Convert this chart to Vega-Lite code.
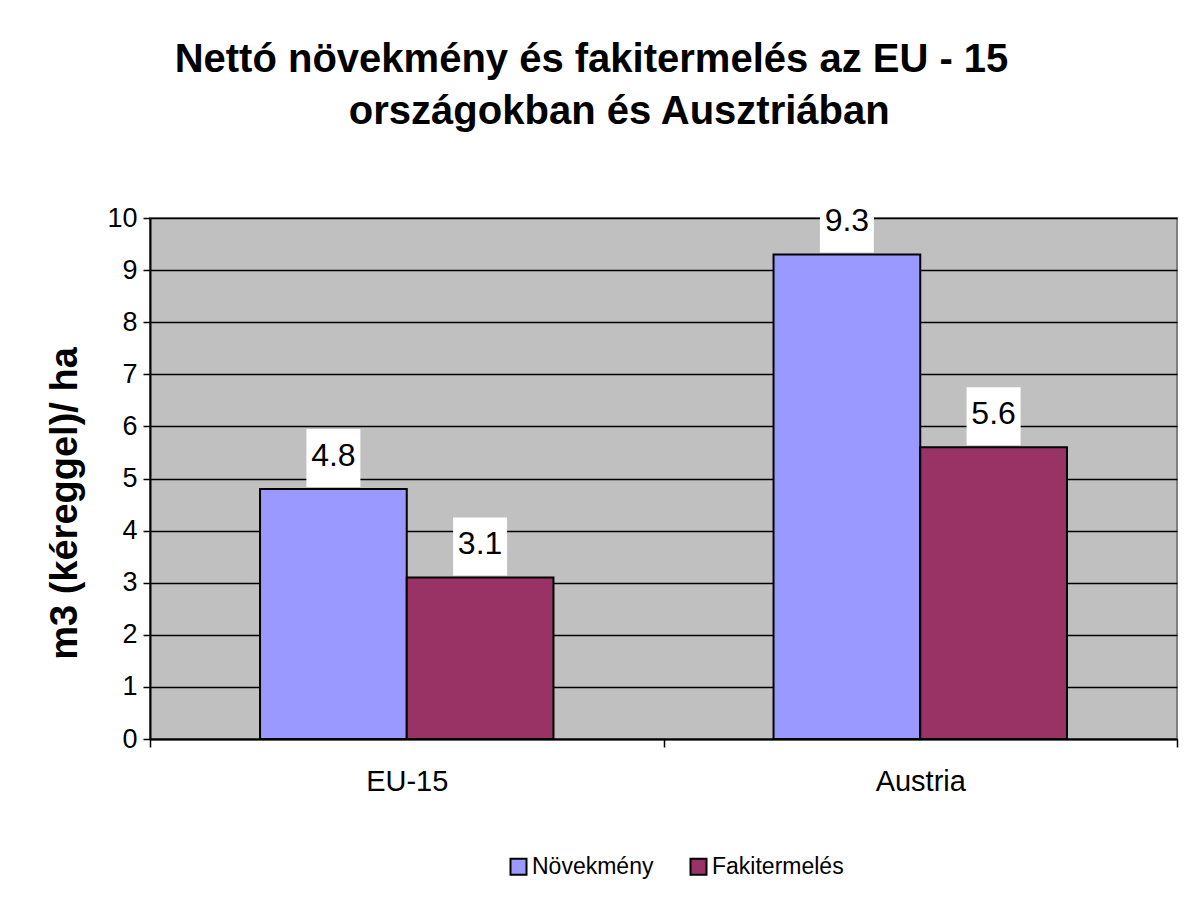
{
  "$schema": "https://vega.github.io/schema/vega-lite/v6.json",
  "autosize": {"type": "none"},
  "width": 1027,
  "height": 521,
  "padding": {"left": 150, "top": 218, "right": 12, "bottom": 159},
  "background": "white",
  "title": {
    "text": ["Nettó növekmény és fakitermelés az EU - 15", "\u200b\u00a0\u00a0\u00a0\u00a0\u00a0országokban és Ausztriában"],
    "font": "Liberation Sans",
    "fontSize": 40,
    "fontWeight": "bold",
    "color": "black",
    "anchor": "middle",
    "dx": -72,
    "offset": 62,
    "lineHeight": 52
  },
  "data": {
    "values": [
      {"region": "EU-15", "series": "Növekmény", "value": 4.8},
      {"region": "EU-15", "series": "Fakitermelés", "value": 3.1},
      {"region": "Austria", "series": "Növekmény", "value": 9.3},
      {"region": "Austria", "series": "Fakitermelés", "value": 5.6}
    ]
  },
  "encoding": {
    "x": {
      "field": "region",
      "type": "nominal",
      "sort": ["EU-15", "Austria"],
      "scale": {"paddingInner": 0, "paddingOuter": 0},
      "axis": {
        "title": null,
        "labelAngle": 0,
        "tickBand": "extent",
        "tickSize": 8,
        "tickColor": "black",
        "tickWidth": 1.5,
        "domainColor": "black",
        "domainWidth": 2,
        "labelFontSize": 29,
        "labelPadding": 20,
        "labelColor": "black",
        "labelFont": "Liberation Sans"
      }
    },
    "xOffset": {
      "field": "series",
      "type": "nominal",
      "sort": ["Növekmény", "Fakitermelés"],
      "scale": {"paddingInner": 0, "paddingOuter": 0.75}
    },
    "y": {
      "field": "value",
      "type": "quantitative",
      "stack": null,
      "scale": {"domain": [0, 10], "nice": false},
      "axis": {
        "values": [0, 1, 2, 3, 4, 5, 6, 7, 8, 9, 10],
        "grid": true,
        "gridColor": "black",
        "gridWidth": 1.5,
        "gridOpacity": 1,
        "domainColor": "black",
        "domainWidth": 2,
        "tickColor": "black",
        "tickWidth": 1.5,
        "tickSize": 7,
        "labelFontSize": 27,
        "labelPadding": 6,
        "labelColor": "black",
        "labelFont": "Liberation Sans",
        "title": "m3 (kéreggel)/ ha",
        "titleFont": "Liberation Sans",
        "titleFontSize": 38,
        "titleFontWeight": "bold",
        "titleColor": "black",
        "titleX": -85,
        "titleY": 285,
        "titleAngle": -90,
        "titleAlign": "center",
        "titleBaseline": "middle"
      }
    }
  },
  "layer": [
    {
      "mark": {"type": "bar", "stroke": "black", "strokeWidth": 2},
      "encoding": {
        "color": {
          "field": "series",
          "type": "nominal",
          "sort": ["Növekmény", "Fakitermelés"],
          "scale": {"domain": ["Növekmény", "Fakitermelés"], "range": ["#9999FF", "#993366"]},
          "legend": {
            "orient": "none",
            "legendX": 357,
            "legendY": 637,
            "direction": "horizontal",
            "title": null,
            "symbolType": "square",
            "symbolSize": 256,
            "symbolStrokeColor": "black",
            "symbolStrokeWidth": 2,
            "symbolOpacity": 1,
            "labelFontSize": 23,
            "labelFont": "Liberation Sans",
            "labelColor": "black",
            "labelOffset": 2,
            "columnPadding": 32
          }
        }
      }
    },
    {
      "mark": {"type": "bar", "color": "white", "width": 54, "yOffset": -60, "y2Offset": -2},
      "encoding": {
        "y2": {"field": "value"}
      }
    },
    {
      "mark": {"type": "text", "baseline": "middle", "align": "center", "yOffset": -33, "fontSize": 32, "font": "Liberation Sans", "color": "black"},
      "encoding": {
        "text": {"field": "value", "type": "quantitative", "format": ".1f"}
      }
    }
  ],
  "config": {
    "font": "Liberation Sans",
    "view": {"fill": "#C0C0C0", "stroke": "#808080", "strokeWidth": 2}
  }
}
